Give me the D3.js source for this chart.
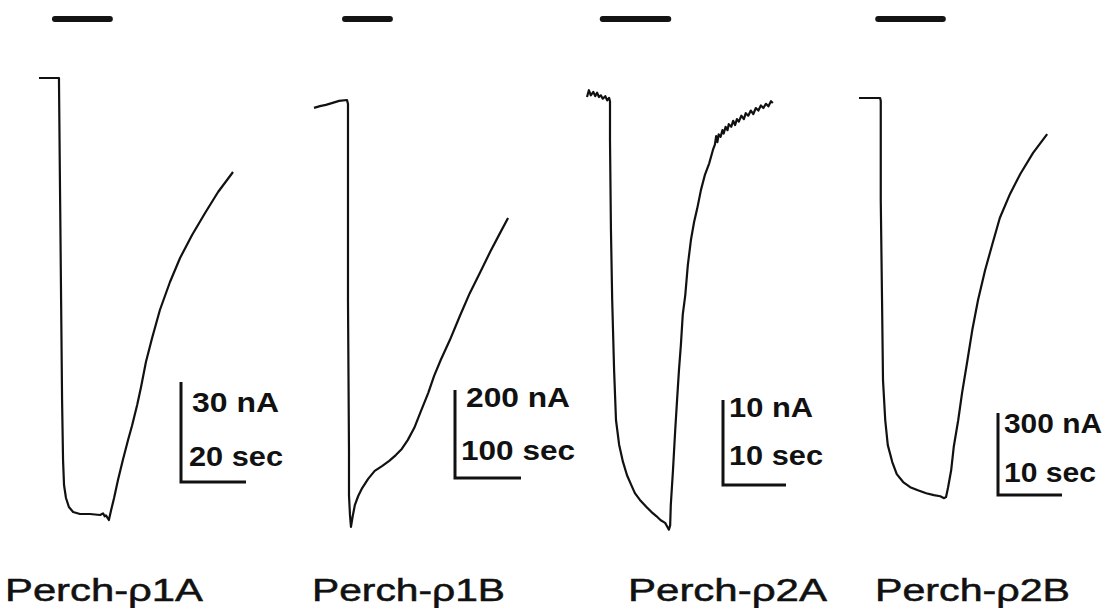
<!DOCTYPE html>
<html>
<head>
<meta charset="utf-8">
<script src="https://cdn.jsdelivr.net/npm/d3@7"></script>
<style>
  html, body { margin: 0; padding: 0; background: #fff; }
  text { font-family: "Liberation Sans", Arial, sans-serif; fill: #111; }
</style>
</head>
<body>
<div id="chart"></div>
<script>
// Receptor names under each trace
const panelNames = ['Perch-\u03C11A', 'Perch-\u03C11B', 'Perch-\u03C12A', 'Perch-\u03C12B'];

// Scale bars (amplitude in nA, time in sec)
const ampBars = [30, 200, 10, 300];
const timeBars = [20, 100, 10, 10];
const ampLabels = ['30 nA', '200 nA', '10 nA', '300 nA'];
const timeLabels = ['20 sec', '100 sec', '10 sec', '10 sec'];

// GABA application window [start, end] in sec
const applications = [[4.9, 21.8], [47, 115], [2.5, 12.9], [3.0, 13.1]];

// Current traces: [time (s), current (nA)]
const trace1A = [
  [0, 0], [6.15, 0], [6.15, -1.2], [6.5, -36.6], [6.8, -66.6], [7.1, -96.6], [7.4, -114.6],
  [7.7, -122.1], [8.3, -126], [9.2, -128.7], [10.5, -130.2], [12.6, -130.8], [15.7, -130.8],
  [18.8, -131.1], [19.7, -130.6], [20.2, -131.5], [20.6, -131.2], [21.5, -132.6], [22.2, -129.6],
  [23.1, -126], [24.3, -120.6], [25.8, -114.6], [27.4, -108.6], [28.6, -104.4], [30.2, -98.1],
  [31.4, -92.7], [32.9, -85.2], [34.8, -78], [37.2, -69.6], [40.3, -61.2], [43.4, -54],
  [47.1, -47.1], [51.1, -40.5], [55.1, -34.2], [59.7, -28.2]
];
const trace1B = [
  [0, -18], [9, -14], [18, -11], [27, -7], [38, -2], [50, 0], [51.5, -9], [51.5, -455],
  [53, -795], [53, -898], [54.5, -943], [56, -970], [59, -943], [62, -920], [67, -900],
  [73, -882], [82, -861], [92, -843], [103, -832], [114, -820], [124, -807], [133, -793],
  [142, -773], [152, -745], [162, -707], [173, -666], [182, -627], [192, -591], [206, -545],
  [221, -491], [236, -439], [252, -391], [267, -345], [282, -302], [294, -268]
];
const trace2A = [
  [0, 0], [0.3, 0.8], [0.6, 0.2], [1.0, 0.6], [1.3, 0.1], [1.6, 0.5], [1.9, 0], [2.2, 0.2],
  [2.5, -0.2], [2.9, 0.1], [3.2, -0.4], [3.5, -0.1], [3.65, -0.5], [3.65, -5.1], [3.8, -15.6],
  [4.0, -23.9], [4.3, -32.1], [4.6, -38.0], [5.1, -40.9], [5.7, -42.9], [6.35, -44.5],
  [7.0, -45.6], [7.6, -46.6], [8.4, -47.4], [9.4, -48.2], [10.2, -48.8], [11.0, -49.3],
  [11.7, -49.8], [12.4, -50.1], [12.7, -50.5], [13.0, -50.9], [13.2, -50.4], [13.3, -48.0],
  [13.65, -43.9], [14.0, -39.2], [14.3, -35.6], [14.6, -32.1], [14.9, -29.2], [15.2, -25.6],
  [15.6, -23.3], [16.0, -19.8], [16.5, -16.8], [17.0, -14.7], [17.5, -13.1], [18.1, -10.9],
  [18.7, -9.2], [19.4, -7.8], [20.0, -6.2], [20.3, -5.6], [20.5, -4.6], [20.7, -5.3],
  [20.9, -4.4], [21.2, -4.7], [21.5, -3.9], [21.7, -4.3], [22.0, -3.5], [22.3, -3.9],
  [22.5, -3.2], [22.9, -3.5], [23.2, -2.8], [23.5, -3.3], [23.8, -2.6], [24.1, -2.9],
  [24.5, -2.2], [24.9, -2.6], [25.2, -1.9], [25.6, -2.2], [26.0, -1.6], [26.4, -2.0],
  [26.8, -1.3], [27.2, -1.6], [27.6, -1.0], [28.0, -1.3], [28.4, -0.8], [28.8, -1.1],
  [29.2, -0.5], [29.5, -0.7]
];
const trace2B = [
  [0, 0], [3.3, 0], [3.4, -11], [3.4, -373], [3.6, -740], [3.75, -1032], [4.1, -1179],
  [4.5, -1270], [5.2, -1332], [5.9, -1376], [6.9, -1405], [8.0, -1424], [9.2, -1435],
  [10.5, -1446], [11.7, -1453], [12.7, -1457], [13.3, -1464], [13.6, -1460], [13.9, -1427],
  [14.4, -1362], [14.8, -1277], [15.5, -1179], [16.1, -1080], [16.9, -966], [17.7, -849],
  [18.6, -739], [19.7, -630], [20.8, -538], [22.0, -439], [23.6, -351], [25.2, -278],
  [27.2, -201], [29.4, -132]
];
const traces = [trace1A, trace1B, trace2A, trace2B];

// Layout of each panel on the page (pixels)
const layout = [
  { x0: 39,  pxPerSec: 3.25, y0: 78,  pxPerNA: 100 / 30,  bar: [181, 482], amp: [11, 30, 87], time: [8, -16, 94], label: [5, 198] },
  { x0: 314, pxPerSec: 0.66, y0: 100, pxPerNA: 88 / 200,  bar: [455, 478], amp: [11, 17, 104], time: [6, -18, 114], label: [312, 193] },
  { x0: 587, pxPerSec: 6.3,  y0: 97,  pxPerNA: 85 / 10,   bar: [723, 485], amp: [6, 17, 84], time: [6, -20, 94], label: [628, 199] },
  { x0: 859, pxPerSec: 6.4,  y0: 98,  pxPerNA: 82 / 300,  bar: [998, 495], amp: [6, 20, 98], time: [6, -13, 92], label: [875, 195] }
];

const width = 1111, height = 608;
const svg = d3.select('#chart').append('svg')
  .attr('width', width)
  .attr('height', height)
  .attr('viewBox', `0 0 ${width} ${height}`);

traces.forEach((data, i) => {
  const L = layout[i];
  const x = d3.scaleLinear().domain([0, 1]).range([L.x0, L.x0 + L.pxPerSec]);
  const y = d3.scaleLinear().domain([0, -1]).range([L.y0, L.y0 + L.pxPerNA]);
  const g = svg.append('g').attr('class', 'panel');

  // Drug application bar
  const app = applications[i];
  g.append('line')
    .attr('x1', x(app[0])).attr('x2', x(app[1]))
    .attr('y1', 19).attr('y2', 19)
    .attr('stroke', '#141414')
    .attr('stroke-width', 6)
    .attr('stroke-linecap', 'round');

  // Current trace
  const line = d3.line().x(d => x(d[0])).y(d => y(d[1]));
  g.append('path')
    .datum(data)
    .attr('d', line)
    .attr('fill', 'none')
    .attr('stroke', '#111')
    .attr('stroke-width', 2.2)
    .attr('stroke-linejoin', 'round');

  // Scale bar
  const bx = L.bar[0], by = L.bar[1];
  const vLen = y(-ampBars[i]) - y(0);
  const hLen = x(timeBars[i]) - x(0);
  g.append('path')
    .attr('d', `M${bx},${by - vLen}V${by}H${bx + hLen}`)
    .attr('fill', 'none')
    .attr('stroke', '#111')
    .attr('stroke-width', 3);

  g.append('text')
    .attr('x', bx + L.amp[0]).attr('y', by - vLen + L.amp[1])
    .attr('font-size', 28).attr('font-weight', 'bold')
    .attr('textLength', L.amp[2]).attr('lengthAdjust', 'spacingAndGlyphs')
    .text(ampLabels[i]);
  g.append('text')
    .attr('x', bx + L.time[0]).attr('y', by + L.time[1])
    .attr('font-size', 28).attr('font-weight', 'bold')
    .attr('textLength', L.time[2]).attr('lengthAdjust', 'spacingAndGlyphs')
    .text(timeLabels[i]);

  // Receptor name
  g.append('text')
    .attr('x', L.label[0]).attr('y', 601)
    .attr('font-size', 31)
    .attr('stroke', '#111').attr('stroke-width', 0.5)
    .attr('textLength', L.label[1]).attr('lengthAdjust', 'spacingAndGlyphs')
    .text(panelNames[i]);
});
</script>
</body>
</html>
